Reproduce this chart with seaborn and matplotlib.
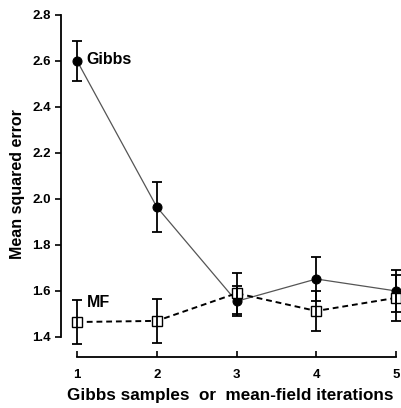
import numpy as np
import pandas as pd
import seaborn as sns
import matplotlib.pyplot as plt

# valores
iters = [1, 2, 3, 4, 5]
gibbs_mse = [2.60, 1.965, 1.555, 1.652, 1.60]
gibbs_err = [0.087, 0.11, 0.065, 0.095, 0.09]
mf_mse = [1.465, 1.47, 1.59, 1.513, 1.57]
mf_err = [0.095, 0.095, 0.09, 0.085, 0.10]

sns.set_style("ticks", {'text.color': 'black', 'axes.labelcolor': 'black',
                        'xtick.color': 'black', 'ytick.color': 'black',
                        'axes.edgecolor': 'black'})
plt.rcParams['font.family'] = ['Liberation Sans', 'DejaVu Sans']
plt.rcParams['font.weight'] = 'bold'

df = pd.DataFrame({
    'iter': iters * 2,
    'mse': gibbs_mse + mf_mse,
    'method': ['Gibbs'] * 5 + ['MF'] * 5,
})

fig = plt.figure(figsize=(4.02, 4.08), dpi=100)
ax = fig.add_axes([0.152, 0.125, 0.843, 0.85])

# Gibbs: linha sólida fina, círculos cheios
sns.lineplot(data=df[df['method'] == 'Gibbs'], x='iter', y='mse', ax=ax,
             color='#555555', linewidth=0.9, marker='o', markersize=6.5,
             markerfacecolor='black', markeredgecolor='black', legend=False)
# MF: linha tracejada, quadrados abertos
sns.lineplot(data=df[df['method'] == 'MF'], x='iter', y='mse', ax=ax,
             color='black', linewidth=1.4, linestyle=(0, (3, 2)), marker='s',
             markersize=6.5, markerfacecolor='white', markeredgecolor='black',
             markeredgewidth=1.0, legend=False)

ax.errorbar(iters, gibbs_mse, yerr=gibbs_err, fmt='none', ecolor='black',
            elinewidth=1.3, capsize=3.8, capthick=1.3)
ax.errorbar(iters, mf_mse, yerr=mf_err, fmt='none', ecolor='black',
            elinewidth=1.3, capsize=3.8, capthick=1.3)

ax.text(1.12, 2.605, 'Gibbs', fontsize=11.5, fontweight='bold', va='center')
ax.text(1.12, 1.55, 'MF', fontsize=11.5, fontweight='bold', va='center')

ax.set_xlim(0.8, 5.05)
ax.set_ylim(1.313, 2.82)
ax.set_xticks(iters)
ax.set_yticks(np.arange(1.4, 2.81, 0.2))
ax.set_yticklabels([f'{v:.1f}' for v in np.arange(1.4, 2.81, 0.2)])
ax.spines['top'].set_visible(False)
ax.spines['right'].set_visible(False)
ax.spines['left'].set_bounds(1.4, 2.8)
ax.spines['bottom'].set_bounds(1, 5)
ax.spines['left'].set_linewidth(1.3)
ax.spines['bottom'].set_linewidth(1.3)
ax.tick_params(axis='y', direction='out', length=4, width=1.2, labelsize=9.5)
ax.tick_params(axis='x', direction='in', length=4, width=1.2, labelsize=9.5, pad=9)

ax.set_xlabel('Gibbs samples  or  mean-field iterations', fontsize=12.3,
              fontweight='bold', labelpad=5)
ax.set_ylabel('Mean squared error', fontsize=11.5, fontweight='bold', labelpad=5)

fig.savefig('out.png', dpi=100)
